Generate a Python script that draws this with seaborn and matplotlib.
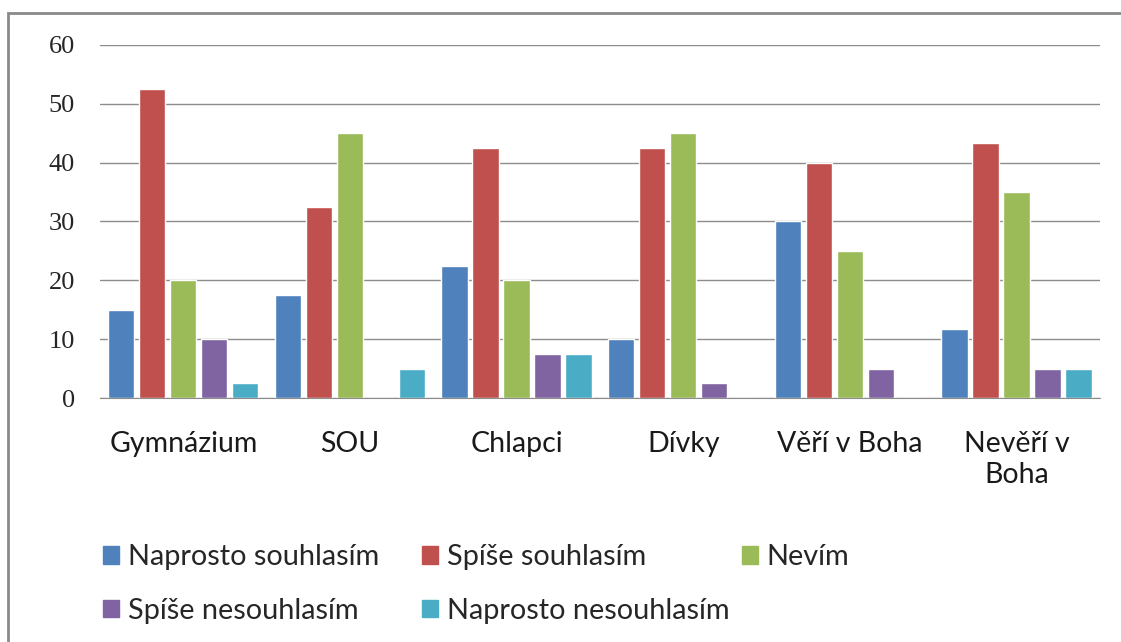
import pandas as pd
import matplotlib.pyplot as plt
import seaborn as sns
from matplotlib.patches import Rectangle

groups = ['Gymnázium', 'SOU', 'Chlapci', 'Dívky', 'Věří v Boha', 'Nevěří v\nBoha']
answers = ['Naprosto souhlasím', 'Spíše souhlasím', 'Nevím',
           'Spíše nesouhlasím', 'Naprosto nesouhlasím']
naprosto_souhlasim = [15, 17.5, 22.5, 10, 30, 11.7]
spise_souhlasim = [52.5, 32.5, 42.5, 42.5, 40, 43.3]
nevim = [20, 45, 20, 45, 25, 35]
spise_nesouhlasim = [10, 0, 7.5, 2.5, 5, 5]
naprosto_nesouhlasim = [2.5, 5, 7.5, 0, 0, 5]
colors = ['#4f81bd', '#c0504d', '#9bbb59', '#8064a2', '#4bacc6']
yticks = [0, 10, 20, 30, 40, 50, 60]

series = [naprosto_souhlasim, spise_souhlasim, nevim, spise_nesouhlasim, naprosto_nesouhlasim]
rows = []
for a, vals in zip(answers, series):
    for g, v in zip(groups, vals):
        rows.append({'Skupina': g, 'Odpověď': a, 'Procento': v})
df = pd.DataFrame(rows)

sns.set_style('white')
plt.rcParams['font.family'] = ['Lato', 'DejaVu Sans']

fig = plt.figure(figsize=(11.21, 6.42), dpi=100)
ax = fig.add_axes([0.0892, 0.38, 0.892, 0.55])

sns.barplot(data=df, x='Skupina', y='Procento', hue='Odpověď', hue_order=answers,
            palette=colors, width=0.93, gap=0.15, saturation=1, ax=ax, legend=False)

ax.set_ylim(0, 60)
ax.set_yticks(yticks, labels=[str(v) for v in yticks],
              fontfamily='Liberation Serif', fontsize=19)
ax.yaxis.grid(True, color='#8c8c8c', linewidth=1)
ax.set_axisbelow(True)
for s in ['left', 'right', 'top']:
    ax.spines[s].set_visible(False)
ax.spines['bottom'].set_color('#8c8c8c')
ax.set_xlabel('')
ax.set_ylabel('')
ax.tick_params(axis='y', length=0, pad=18)
ax.tick_params(axis='x', length=0, pad=24, labelsize=20.5, labelcolor='#1a1a1a')

# legend laid out in fixed-width columns, row by row
handles = [Rectangle((0, 0), 1, 1, color=c) for c in colors]
columns = [[0, 3], [1, 4], [2]]
col_x = [0.092, 0.3765, 0.662]
for idx, x in zip(columns, col_x):
    leg = fig.legend([handles[i] for i in idx], [answers[i] for i in idx],
                     loc='upper left', bbox_to_anchor=(x, 0.152),
                     frameon=False, fontsize=20.8, handlelength=0.55, handleheight=0.55,
                     handletextpad=0.3, labelspacing=0.95,
                     borderpad=0, borderaxespad=0)

fig.patches.append(Rectangle((0.007, -0.01), 1.0, 0.99, transform=fig.transFigure,
                             fill=False, edgecolor='#8a8a8a', linewidth=2))

fig.savefig('out.png', dpi=100)
